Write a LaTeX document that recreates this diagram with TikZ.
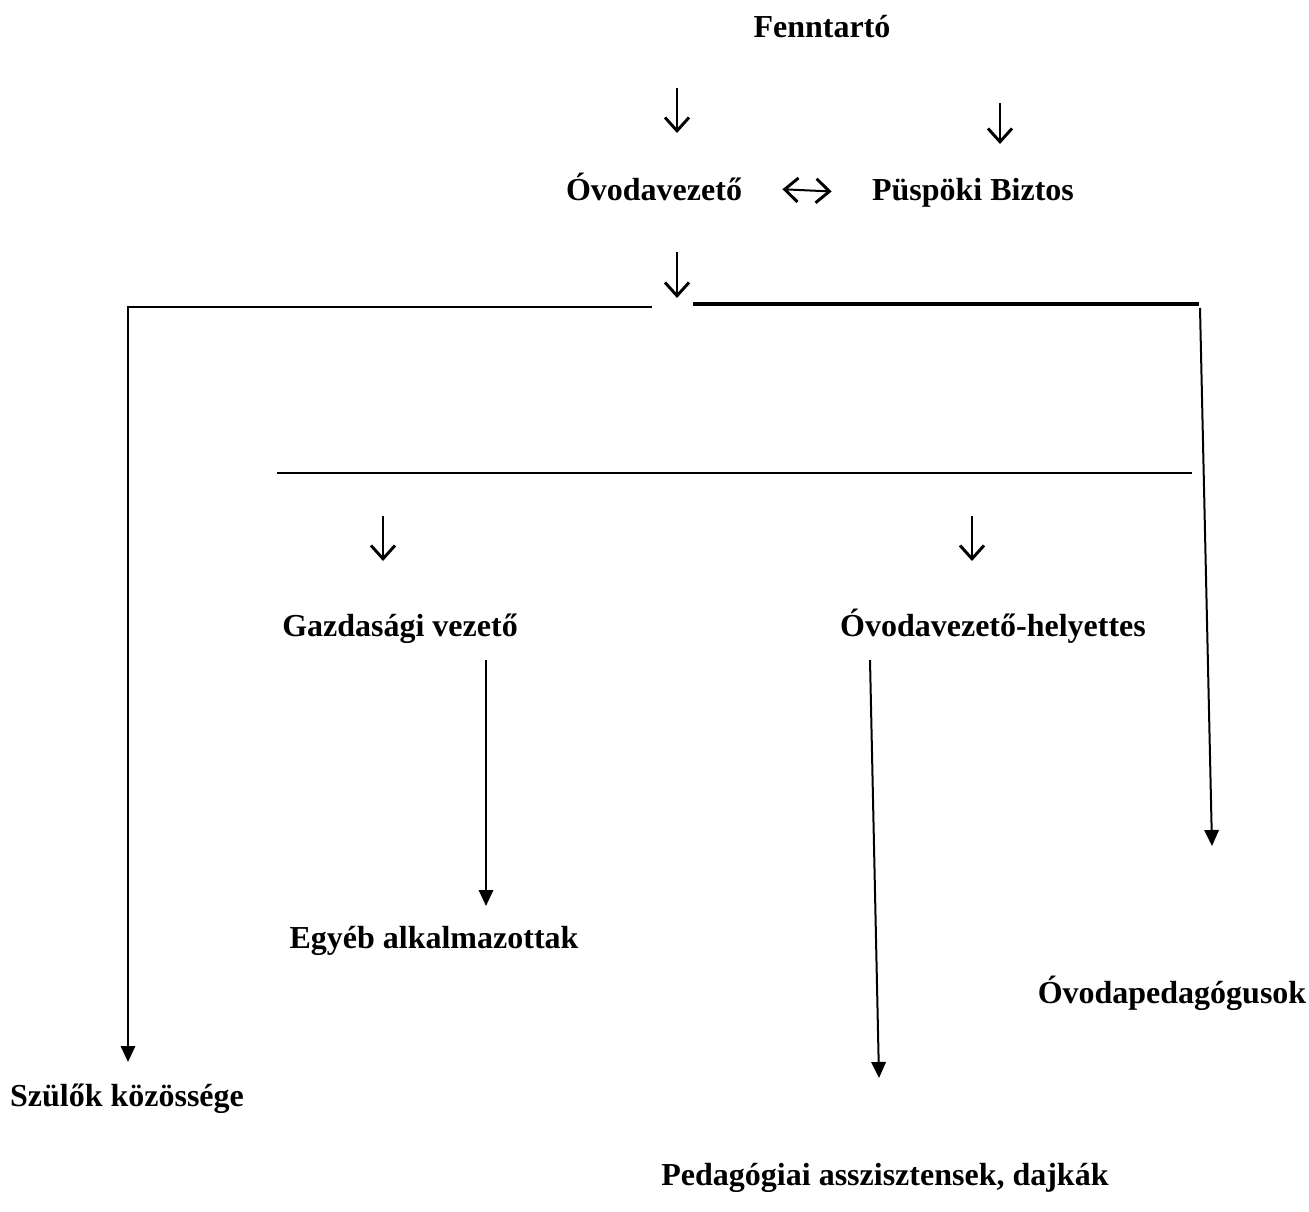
\documentclass[tikz,border=0pt]{standalone}
\usepackage{fontspec}
\setmainfont{Liberation Serif}
\usetikzlibrary{arrows.meta}
\begin{document}
\begin{tikzpicture}
	[x=0.375pt,y=-0.375pt,
	 lbl/.style={inner sep=0pt,anchor=base,font=\fontsize{12}{14}\selectfont\bfseries},
	 barb/.tip={Straight Barb[length=5pt,width=9pt,line width=1.1pt]},
	 glyph/.style={line width=0.75pt,-barb},
	 tri/.style={line width=0.75pt,-{Triangle[length=6pt,width=5.4pt]}},
	 rule/.style={line width=0.75pt}]
	\useasboundingbox (0,0) rectangle (1309,1212);
	% labels
	\node[lbl] (fenn) at (822,38) {Fenntartó};
	\node[lbl] (ovv) at (654,201) {Óvodavezető};
	\node[lbl] (pb) at (973,201) {Püspöki Biztos};
	\node[lbl] (gazd) at (400,636) {Gazdasági vezető};
	\node[lbl] (ovh) at (993,636) {Óvodavezető-helyettes};
	\node[lbl] (egyeb) at (434,948) {Egyéb alkalmazottak};
	\node[lbl] (pedag) at (1172,1003) {Óvodapedagógusok};
	\node[lbl] (szul) at (127,1106) {Szülők közössége};
	\node[lbl] (asszisz) at (885,1185) {Pedagógiai asszisztensek, dajkák};
	% free ends
	\coordinate (a1) at (677,88);   \coordinate (b1) at (677,133);
	\coordinate (a2) at (1000,103); \coordinate (b2) at (1000,144);
	\coordinate (a3) at (677,252);  \coordinate (b3) at (677,298);
	\coordinate (a4) at (383,516);  \coordinate (b4) at (383,561);
	\coordinate (a5) at (972,516);  \coordinate (b5) at (972,561);
	\coordinate (sl) at (652,307);  \coordinate (sk) at (128,307);
	\coordinate (sr) at (693,304);  \coordinate (sj) at (1199,304);
	\coordinate (pt) at (1200,308); \coordinate (pe) at (1212,846);
	\coordinate (hl) at (277,473);  \coordinate (hr) at (1192,473);
	\coordinate (gt) at (486,660);  \coordinate (ge) at (486,906);
	\coordinate (ht) at (870,660);  \coordinate (he) at (879,1078);
	% arrows
	\foreach \i in {1,...,5}
		\draw[glyph] (a\i) -- (b\i);
	\draw[line width=0.75pt,barb-barb,shorten <=15pt,shorten >=15pt] (ovv.east) -- (pb.west);
	\draw[tri] (sl) -- (sk) -- (sk |- 0,1062);
	\draw[line width=1.2pt] (sr) -- (sj);
	\draw[tri] (pt) -- (pe);
	\draw[rule] (hl) -- (hr);
	\draw[tri] (gt) -- (ge);
	\draw[tri] (ht) -- (he);
\end{tikzpicture}
\end{document}
